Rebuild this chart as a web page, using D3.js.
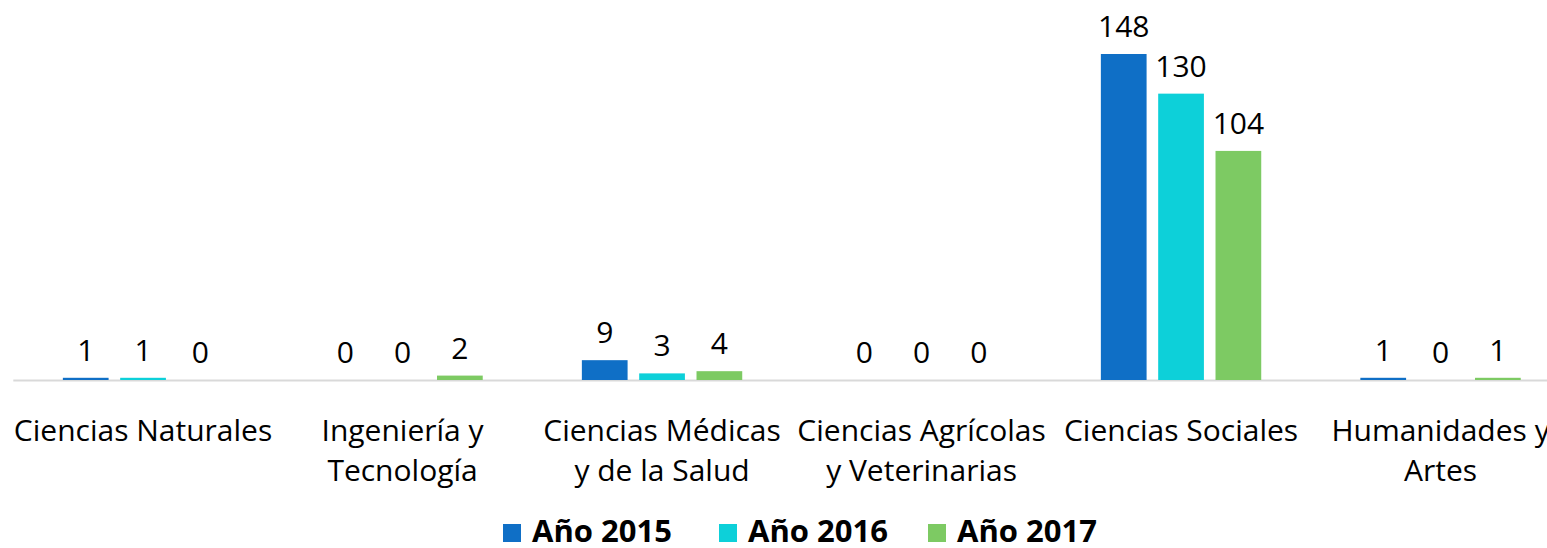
<!DOCTYPE html>
<html>
<head>
<meta charset="utf-8">
<script src="https://cdn.jsdelivr.net/npm/d3@7.9.0/dist/d3.min.js"></script>
<style>
  html, body { margin: 0; padding: 0; background: #fff; overflow: hidden; }
  svg { display: block; font-family: "Open Sans", "Noto Sans", sans-serif; }
</style>
</head>
<body>
<div id="chart"></div>
<script>
// categories (label lines) and series values
const categories = [
    ["Ciencias Naturales"],
    ["Ingeniería y", "Tecnología"],
    ["Ciencias Médicas", "y de la Salud"],
    ["Ciencias Agrícolas", "y Veterinarias"],
    ["Ciencias Sociales"],
    ["Humanidades y", "Artes"]
];
const seriesNames = ["Año 2015", "Año 2016", "Año 2017"];
const values2015 = [1, 0, 9, 0, 148, 1];
const values2016 = [1, 0, 3, 0, 130, 0];
const values2017 = [0, 2, 4, 0, 104, 1];
const colors = ["#0F6FC6", "#0DD0D9", "#7DCA63"];

const width = 1547;
const height = 548;
const baseline = 380;

const allSeries = [values2015, values2016, values2017];
const keys = categories.map((c, i) => i);

const svg = d3.select("#chart")
    .append("svg")
    .attr("width", width)
    .attr("height", height);

// category scale runs past the right edge, like the original (clipped)
const x0 = d3.scaleBand()
    .domain(keys)
    .range([13.3, 1570.3])
    .paddingInner(0.382)
    .paddingOuter(0.191);

const x1 = d3.scaleBand()
    .domain(seriesNames)
    .range([0, x0.bandwidth()])
    .paddingInner(0.2024);

const y = d3.scaleLinear()
    .domain([0, 148])
    .range([baseline, 54]);

// baseline
svg.append("line")
    .attr("x1", x0.range()[0])
    .attr("x2", width)
    .attr("y1", baseline + 0.5)
    .attr("y2", baseline + 0.5)
    .attr("stroke", "#d9d9d9")
    .attr("stroke-width", 2);

// bars + value labels
const groups = svg.selectAll("g.cat")
    .data(keys)
    .join("g")
    .attr("class", "cat")
    .attr("transform", d => `translate(${x0(d)},0)`);

groups.selectAll("rect")
    .data(i => seriesNames.map((s, k) => ({ s, k, v: allSeries[k][i] })))
    .join("rect")
    .attr("x", d => x1(d.s))
    .attr("y", d => y(d.v))
    .attr("width", x1.bandwidth())
    .attr("height", d => baseline - y(d.v))
    .attr("fill", d => colors[d.k]);

groups.selectAll("text.val")
    .data(i => seriesNames.map((s, k) => ({ s, k, v: allSeries[k][i] })))
    .join("text")
    .attr("class", "val")
    .attr("x", d => x1(d.s) + x1.bandwidth() / 2)
    .attr("y", d => y(d.v) - 17)
    .attr("text-anchor", "middle")
    .attr("font-size", 30)
    .attr("fill", "#000")
    .text(d => d.v);

// category labels
const labels = svg.selectAll("text.cat")
    .data(keys)
    .join("text")
    .attr("class", "cat")
    .attr("x", d => x0(d) + x0.bandwidth() / 2)
    .attr("y", 441)
    .attr("text-anchor", "middle")
    .attr("font-size", 30)
    .attr("fill", "#000");

labels.selectAll("tspan")
    .data(d => categories[d])
    .join("tspan")
    .attr("x", function () { return d3.select(this.parentNode).attr("x"); })
    .attr("dy", (d, i) => i === 0 ? 0 : 40)
    .text(d => d);

// legend
const legendX = [503, 719, 928];
const legend = svg.selectAll("g.leg")
    .data(seriesNames)
    .join("g")
    .attr("class", "leg")
    .attr("transform", (d, i) => `translate(${legendX[i]},524)`);

legend.append("rect")
    .attr("width", 18)
    .attr("height", 18)
    .attr("fill", (d, i) => colors[i]);

legend.append("text")
    .attr("x", 29)
    .attr("y", 18)
    .attr("font-size", 31)
    .attr("font-weight", "bold")
    .attr("fill", "#000")
    .text(d => d);
</script>
</body>
</html>
